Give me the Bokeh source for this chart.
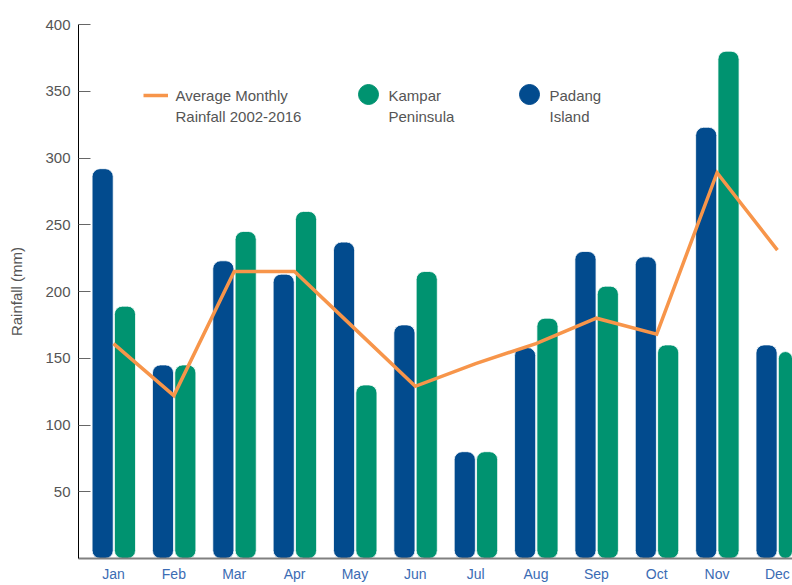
from bokeh.plotting import figure
from bokeh.models import Range1d, FixedTicker, Legend, LegendItem, ColumnDataSource, Label
from bokeh.transform import dodge
from bokeh.embed import file_html
from bokeh.resources import INLINE

months = ["Jan", "Feb", "Mar", "Apr", "May", "Jun", "Jul", "Aug", "Sep", "Oct", "Nov", "Dec"]
padang = [292, 145, 223, 213, 237, 175, 80, 158, 230, 226, 323, 160]
kampar = [189, 145, 245, 260, 130, 215, 80, 180, 204, 160, 380, 155]
average = [161, 122, 215, 215, 172, 129, 146, 161, 180, 168, 289, 231]
y_ticks = [50, 100, 150, 200, 250, 300, 350, 400]
legend_labels = ["Average Monthly\nRainfall 2002-2016", "Kampar\nPeninsula", "Padang\nIsland"]

BLUE = "#024b8e"
GREEN = "#009370"
ORANGE = "#f7954a"
GREY = "#555555"
FONT = "Liberation Sans"

idx = list(range(len(months)))
src = ColumnDataSource(dict(x=idx, month=months, padang=padang, kampar=kampar, avg=average))

p = figure(width=792, height=585, output_backend="svg", toolbar_location=None,
           x_range=Range1d(-0.58, 11.25), y_range=Range1d(0, 400),
           min_border_left=78, min_border_right=0, min_border_top=24, min_border_bottom=27)
p.outline_line_color = None
p.grid.visible = False
p.background_fill_color = "white"
p.border_fill_color = "white"

b1 = p.vbar(x=dodge("x", -0.18), top="padang", bottom=0, width=0.35, source=src,
            fill_color=BLUE, line_color="white", line_width=0.8, border_radius=8)
b2 = p.vbar(x=dodge("x", 0.19), top="kampar", bottom=0, width=0.35, source=src,
            fill_color=GREEN, line_color="white", line_width=0.8, border_radius=8)
ln = p.line(x="x", y="avg", source=src, line_color=ORANGE, line_width=3.5, line_join="miter")

# legend-only marker renderers (placed outside the visible range)
dk = p.scatter(x=[-100], y=[-100], size=20, fill_color=GREEN, line_color=GREEN)
dp = p.scatter(x=[-100], y=[-100], size=20, fill_color=BLUE, line_color=BLUE)

# axes
p.yaxis.ticker = FixedTicker(ticks=y_ticks)
p.yaxis.axis_line_color = "black"
p.yaxis.axis_line_width = 1
p.yaxis.major_tick_in = 12
p.yaxis.major_tick_out = 0
p.yaxis.major_tick_line_color = "#666666"
p.yaxis.minor_tick_line_color = None
p.yaxis.major_label_text_font = FONT
p.yaxis.major_label_text_font_size = "15px"
p.yaxis.major_label_text_color = GREY
p.yaxis.major_label_standoff = 8
p.yaxis.axis_label = "Rainfall (mm)"
p.yaxis.axis_label_text_font = FONT
p.yaxis.axis_label_text_font_size = "15px"
p.yaxis.axis_label_text_font_style = "normal"
p.yaxis.axis_label_text_color = GREY
p.yaxis.axis_label_standoff = 17

p.xaxis.ticker = FixedTicker(ticks=idx)
p.xaxis.major_label_overrides = {i: m for i, m in zip(idx, months)}
p.xaxis.axis_line_color = "#808080"
p.xaxis.axis_line_width = 2
p.xaxis.major_tick_line_color = None
p.xaxis.major_tick_out = 0
p.xaxis.major_tick_in = 0
p.xaxis.minor_tick_line_color = None
p.xaxis.minor_tick_out = 0
p.xaxis.major_label_text_font = FONT
p.xaxis.major_label_text_font_size = "14px"
p.xaxis.major_label_text_color = "#3b6cb4"
p.xaxis.major_label_standoff = 7


def glyph_legend(rend, loc, gw, gh):
    lg = Legend(items=[LegendItem(label=" ", renderers=[rend])], location=loc,
                orientation="horizontal", glyph_width=gw, glyph_height=gh,
                label_standoff=0, padding=0, margin=0, spacing=0,
                border_line_alpha=0, background_fill_alpha=0,
                label_text_font_size="10px", label_height=10, label_width=1)
    p.add_layout(lg)


glyph_legend(ln, (65, 453), 25, 20)
glyph_legend(dk, (265, 439), 50, 50)
glyph_legend(dp, (426, 439), 50, 50)

for txt, lx in zip(legend_labels, [97, 310, 471]):
    p.add_layout(Label(x=lx, y=472, x_units="screen", y_units="screen", text=txt,
                       text_font=FONT, text_font_size="15px", text_color=GREY,
                       text_baseline="top", text_align="left", text_line_height=1.27))

open("out.html", "w").write(file_html(p, INLINE))
